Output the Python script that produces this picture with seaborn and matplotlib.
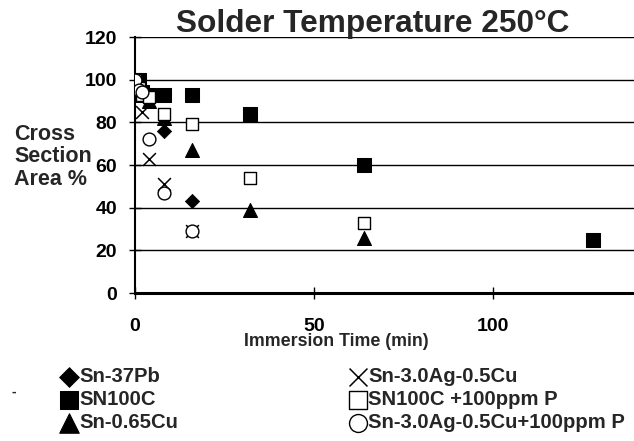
import matplotlib
matplotlib.use("Agg")
import matplotlib.pyplot as plt
import seaborn as sns
import pandas as pd

# Immersion time (min) and remaining cross section area (%) per solder
t_sn37pb = [0, 1, 2, 4, 8, 16]
a_sn37pb = [100, 97, 93, 90, 76, 43]

t_sn100c = [0, 1, 2, 4, 8, 16, 32, 64, 128]
a_sn100c = [100, 100, 94, 93, 93, 93, 84, 60, 25]

t_sn065cu = [0, 1, 2, 4, 8, 16, 32, 64]
a_sn065cu = [100, 97, 93, 90, 82, 67, 39, 26]

t_sac = [0, 1, 2, 4, 8, 16]
a_sac = [100, 96, 85, 63, 51, 29]

t_sn100c_p = [0, 1, 2, 4, 8, 16, 32, 64]
a_sn100c_p = [100, 96, 93, 92, 84, 79, 54, 33]

t_sac_p = [0, 1, 2, 4, 8, 16]
a_sac_p = [100, 95, 94, 72, 47, 29]

y_ticks = [0, 20, 40, 60, 80, 100, 120]
x_ticks = [0, 50, 100]

sns.set_style("white")
plt.rcParams["font.family"] = ["Liberation Sans", "DejaVu Sans"]
plt.rcParams["font.weight"] = "bold"

fig = plt.figure(figsize=(6.34, 4.41), dpi=100)
# axes: x from px 135, y from 37 (top) to 293 (bottom)
ax = fig.add_axes([135 / 634, 148 / 441, 501 / 634, 256 / 441])

series = [
    ("Sn-37Pb", t_sn37pb, a_sn37pb, dict(marker="D", s=52, color="black", edgecolor="black")),
    ("SN100C", t_sn100c, a_sn100c, dict(marker="s", s=90, color="black", edgecolor="black")),
    ("Sn-0.65Cu", t_sn065cu, a_sn065cu, dict(marker="^", s=100, color="black", edgecolor="black")),
    ("Sn-3.0Ag-0.5Cu", t_sac, a_sac, dict(marker="x", s=85, color="black", linewidth=1.1)),
    ("SN100C +100ppm P", t_sn100c_p, a_sn100c_p, dict(marker="s", s=85, facecolor="white", edgecolor="black", linewidth=1.0)),
    ("Sn-3.0Ag-0.5Cu+100ppm P", t_sac_p, a_sac_p, dict(marker="o", s=85, facecolor="white", edgecolor="black", linewidth=1.0)),
]

for name, t, a, kw in series:
    df = pd.DataFrame({"time": t, "area": a})
    sns.scatterplot(data=df, x="time", y="area", ax=ax, label=name, zorder=3, **kw)

ax.set_xlim(0, 140)
ax.set_ylim(0, 120)
ax.set_yticks(y_ticks)
ax.set_xticks(x_ticks)
ax.yaxis.grid(True, color="black", linewidth=1.0)
ax.set_axisbelow(True)
for s in ["top", "right"]:
    ax.spines[s].set_visible(False)
ax.spines["left"].set_color("black")
ax.spines["left"].set_linewidth(1.5)
ax.spines["bottom"].set_color("black")
ax.spines["bottom"].set_linewidth(2.2)
ax.tick_params(axis="both", direction="inout", length=8, width=1, colors="black",
               labelsize=14, left=True, bottom=True)
ax.tick_params(axis="y", pad=9)
ax.tick_params(axis="x", pad=14)
for lbl in ax.get_xticklabels() + ax.get_yticklabels():
    lbl.set_fontweight("bold")

ax.set_xlabel("Immersion Time (min)", fontsize=12.8, fontweight="bold")
ax.xaxis.set_label_coords((336 - 135) / 501, -(342 - 293) / 256)
ax.xaxis.label.set_va("center")
ax.set_ylabel("")
fig.text(14 / 634, 1 - 157 / 441, "Cross\nSection\nArea %", fontsize=15.5,
         fontweight="bold", ha="left", va="center", linespacing=1.1)
fig.text(373 / 634, 1 - 32 / 441, "Solder Temperature 250°C", fontsize=22.8,
         fontweight="bold", ha="center", va="baseline")
fig.text(12 / 634, 1 - 392 / 441, "-", fontsize=10, ha="left", va="center")

handles, labels = ax.get_legend_handles_labels()
ax.get_legend().remove()
leg_kw = dict(frameon=False, handletextpad=0.0, handlelength=1.0, markerscale=1.4,
              labelspacing=0.2, borderpad=0, borderaxespad=0,
              prop={"weight": "bold", "size": 14.6})
fig.legend(handles[:3], labels[:3], loc="upper left",
           bbox_to_anchor=(59 / 634, 1 - 367 / 441), **leg_kw)
fig.legend(handles[3:], labels[3:], loc="upper left",
           bbox_to_anchor=(348 / 634, 1 - 367 / 441), **leg_kw)

fig.savefig("out.png", dpi=100)
